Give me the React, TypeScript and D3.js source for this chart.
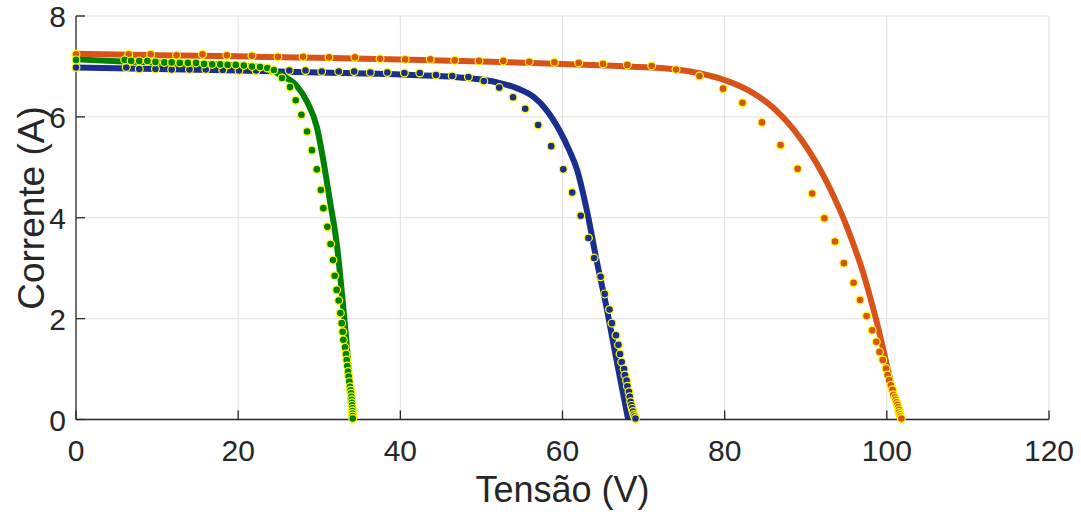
import React from 'react';
import * as d3 from 'd3';

type Pt = [number, number];

// Axis ticks
const xTicks = [0, 20, 40, 60, 80, 100, 120];
const yTicks = [0, 2, 4, 6, 8];

// Modelled I-V curves (voltage V, current A)
const orangeCurve: Pt[] = [
  [0, 7.25], [10, 7.22], [20, 7.2], [30, 7.17], [40, 7.14], [50, 7.1], [60, 7.05],
  [68, 7.0], [74, 6.94], [77, 6.86], [80, 6.73], [83, 6.52], [86, 6.18], [88.5, 5.75],
  [90.5, 5.3], [92.3, 4.8], [93.8, 4.3], [95.0, 3.85], [96.0, 3.42], [97.0, 2.95],
  [97.9, 2.45], [98.7, 1.97], [99.4, 1.5], [100.0, 1.08], [100.6, 0.68], [101.1, 0.33],
  [101.6, 0.0],
];

const blueCurve: Pt[] = [
  [0, 6.98], [10, 6.95], [20, 6.92], [30, 6.88], [40, 6.84], [46, 6.8], [50, 6.74],
  [52.3, 6.67], [54.5, 6.56], [56.4, 6.4], [58, 6.14], [59.7, 5.71], [60.8, 5.35],
  [61.8, 4.95], [63.0, 4.15], [64.2, 3.16], [65.5, 2.17], [66.5, 1.31], [67.3, 0.65],
  [68.1, 0.0],
];

const greenCurve: Pt[] = [
  [0, 7.14], [5.8, 7.1], [10, 7.08], [15, 7.05], [20, 7.02], [23.5, 6.97], [25.2, 6.83],
  [27.2, 6.62], [28.5, 6.3], [29.7, 5.8], [30.5, 5.14], [31.3, 4.35], [32.2, 3.43],
  [32.8, 2.5], [33.3, 1.64], [33.7, 0.85], [34.0, 0.0],
];

// Measured points
const orangePoints: Pt[] = [
  [0, 7.24], [6.5, 7.24], [9.2, 7.24], [12.4, 7.22], [15.6, 7.24], [18.6, 7.22],
  [21.7, 7.21], [24.9, 7.19], [28.0, 7.19], [31.2, 7.18], [34.4, 7.18], [37.5, 7.15],
  [40.6, 7.14], [43.7, 7.14], [46.7, 7.12], [49.7, 7.11], [52.7, 7.11], [55.9, 7.09],
  [59.0, 7.08], [62.0, 7.07], [65.0, 7.05], [68.0, 7.03], [71.0, 7.01], [74.0, 6.94],
  [76.9, 6.81], [79.8, 6.56], [82.2, 6.28], [84.6, 5.89], [86.9, 5.44], [89.0, 4.97],
  [90.8, 4.48], [92.3, 3.99], [93.6, 3.53], [94.7, 3.1], [95.9, 2.71], [96.7, 2.37],
  [97.5, 2.05], [98.2, 1.77], [98.7, 1.54], [99.1, 1.34], [99.5, 1.18], [99.9, 1.01],
  [100.1, 0.88], [100.3, 0.78], [100.5, 0.68], [100.7, 0.59], [100.8, 0.49],
  [101.0, 0.44], [101.1, 0.39], [101.2, 0.34], [101.3, 0.29], [101.4, 0.24],
  [101.5, 0.19], [101.5, 0.14], [101.6, 0.1], [101.7, 0.06], [101.8, 0.02],
];

const bluePoints: Pt[] = [
  [0, 6.98], [6.2, 6.98], [7.8, 6.95], [9.8, 6.95], [11.8, 6.94], [14.0, 6.94],
  [16.0, 6.94], [18.1, 6.93], [20.1, 6.92], [22.2, 6.92], [24.2, 6.92], [26.3, 6.92],
  [28.3, 6.92], [30.3, 6.9], [32.4, 6.9], [34.3, 6.9], [36.3, 6.88], [38.4, 6.88],
  [40.5, 6.87], [42.4, 6.87], [44.4, 6.83], [46.4, 6.81], [48.4, 6.79], [50.3, 6.71],
  [52.2, 6.58], [53.9, 6.39], [55.4, 6.16], [57.0, 5.84], [58.6, 5.42], [60.1, 4.96],
  [61.2, 4.5], [62.25, 4.04], [63.2, 3.6], [63.9, 3.2], [64.7, 2.83], [65.2, 2.49],
  [65.8, 2.18], [66.1, 1.91], [66.6, 1.67], [66.9, 1.48], [67.1, 1.3], [67.3, 1.14],
  [67.6, 1.0], [67.7, 0.88], [67.9, 0.77], [68.0, 0.66], [68.2, 0.55], [68.3, 0.45],
  [68.4, 0.35], [68.5, 0.28], [68.6, 0.22], [68.7, 0.16], [68.8, 0.1], [68.9, 0.06],
  [69.0, 0.02],
];

const greenPoints: Pt[] = [
  [0, 7.13], [6.0, 7.13], [6.8, 7.11], [7.8, 7.11], [8.8, 7.11], [9.8, 7.09],
  [10.9, 7.08], [11.8, 7.08], [12.8, 7.07], [13.8, 7.07], [14.8, 7.07], [15.8, 7.05],
  [16.8, 7.04], [17.8, 7.04], [18.7, 7.03], [19.7, 7.03], [20.7, 7.02], [21.7, 7.0],
  [22.7, 6.99], [23.6, 6.97], [24.4, 6.93], [25.4, 6.77], [26.4, 6.59], [27.1, 6.33],
  [27.8, 6.04], [28.5, 5.71], [29.1, 5.34], [29.7, 4.96], [30.2, 4.55], [30.5, 4.19],
  [31.0, 3.82], [31.4, 3.48], [31.7, 3.16], [31.9, 2.85], [32.15, 2.57], [32.4, 2.36],
  [32.6, 2.11], [32.77, 1.91], [32.89, 1.74], [32.97, 1.58], [33.18, 1.43], [33.3, 1.3],
  [33.39, 1.18], [33.46, 1.06], [33.55, 0.95], [33.63, 0.85], [33.71, 0.75],
  [33.79, 0.65], [33.86, 0.58], [33.92, 0.52], [33.96, 0.45], [34.0, 0.39],
  [34.03, 0.33], [34.05, 0.28], [34.08, 0.22], [34.09, 0.17], [34.1, 0.12],
  [34.12, 0.07], [34.13, 0.02],
];

const ORANGE = '#d95319';
const BLUE = '#1a2e8c';
const GREEN = '#008000';
const EDGE = '#ffff00';
const AXIS = '#262626';
const GRID = '#dfdfdf';
const FONT = '"Liberation Sans", Arial, Helvetica, sans-serif';

export default function App() {
  const W = 1081;
  const H = 512;
  const left = 76;
  const right = 1049;
  const top = 16;
  const bottom = 419.5;

  const x = d3.scaleLinear().domain([0, 120]).range([left, right]);
  const y = d3.scaleLinear().domain([0, 8]).range([bottom, top]);

  const line = d3
    .line<Pt>()
    .x((d) => x(d[0]))
    .y((d) => y(d[1]))
    .curve(d3.curveMonotoneX);

  const curves = [
    { data: blueCurve, color: BLUE },
    { data: orangeCurve, color: ORANGE },
    { data: greenCurve, color: GREEN },
  ];
  const markers = [
    { data: orangePoints, color: ORANGE },
    { data: bluePoints, color: BLUE },
    { data: greenPoints, color: GREEN },
  ];

  return (
    <svg
      width={W}
      height={H}
      viewBox={`0 0 ${W} ${H}`}
      style={{ position: 'absolute', left: 0, top: 0, background: '#fff' }}
      fontFamily={FONT}
    >
      <rect x={0} y={0} width={W} height={H} fill="#fff" />
      {/* grid */}
      <g stroke={GRID} strokeWidth={1}>
        {xTicks.filter((t) => t > 0).map((t) => (
          <line key={`gx${t}`} x1={x(t)} x2={x(t)} y1={top} y2={bottom} />
        ))}
        {yTicks.filter((t) => t > 0).map((t) => (
          <line key={`gy${t}`} x1={left} x2={right} y1={y(t)} y2={y(t)} />
        ))}
      </g>
      {/* axes */}
      <g stroke={AXIS} strokeWidth={1.3} fill="none">
        <line x1={left} x2={left} y1={top} y2={bottom} />
        <line x1={left} x2={right} y1={bottom} y2={bottom} />
        {xTicks.map((t) => (
          <line key={`tx${t}`} x1={x(t)} x2={x(t)} y1={bottom} y2={bottom - 9} />
        ))}
        {yTicks.map((t) => (
          <line key={`ty${t}`} x1={left} x2={left + 9} y1={y(t)} y2={y(t)} />
        ))}
      </g>
      {/* curves */}
      <g fill="none" strokeWidth={6} strokeLinejoin="round" strokeLinecap="butt">
        {curves.map((c, i) => (
          <path key={i} d={line(c.data) ?? ''} stroke={c.color} />
        ))}
      </g>
      {/* measured points */}
      {markers.map((m, i) => (
        <g key={i} fill={m.color} stroke={EDGE} strokeWidth={1.2}>
          {m.data.map((p, j) => (
            <circle key={j} cx={x(p[0])} cy={y(p[1])} r={3.9} />
          ))}
        </g>
      ))}
      {/* tick labels */}
      <g fill={AXIS} fontSize={30}>
        {xTicks.map((t) => (
          <text key={`lx${t}`} x={x(t)} y={bottom + 41} textAnchor="middle">
            {t}
          </text>
        ))}
        {yTicks.map((t) => (
          <text key={`ly${t}`} x={left - 10} y={y(t) + 11} textAnchor="end">
            {t}
          </text>
        ))}
      </g>
      {/* axis titles */}
      <text
        x={(left + right) / 2}
        y={502}
        textAnchor="middle"
        fontSize={36}
        fill={AXIS}
      >
        Tensão (V)
      </text>
      <text
        transform={`translate(44, 208) rotate(-90)`}
        textAnchor="middle"
        fontSize={37}
        fill={AXIS}
      >
        Corrente (A)
      </text>
    </svg>
  );
}
